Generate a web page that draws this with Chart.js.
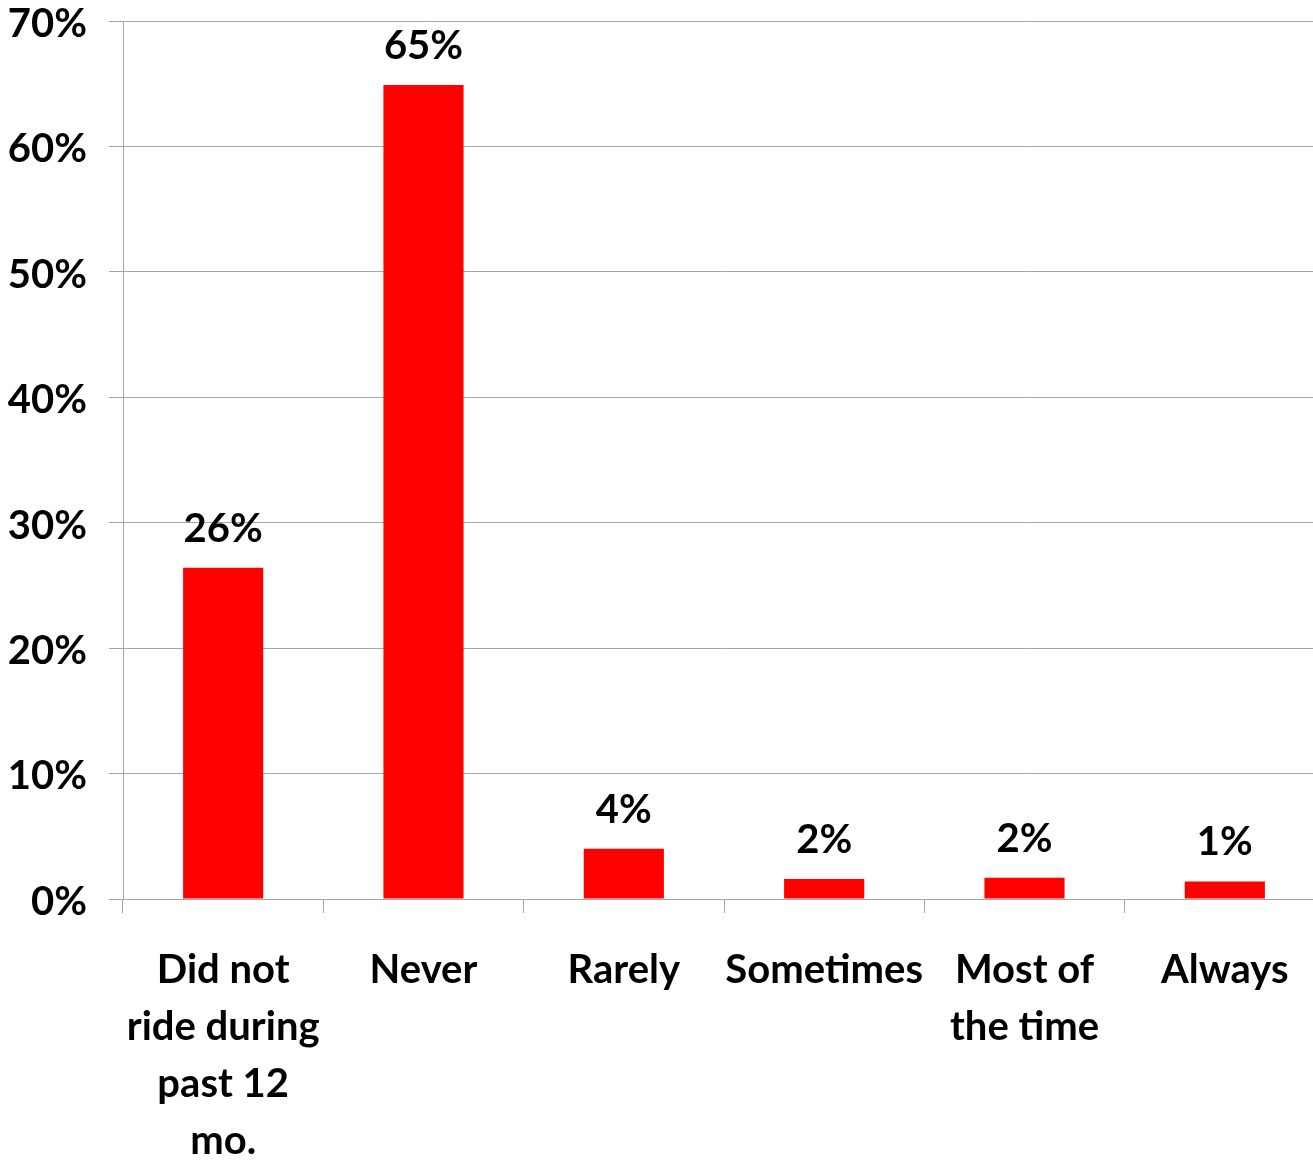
<!DOCTYPE html>
<html>
<head>
<meta charset="utf-8">
<script src="https://cdn.jsdelivr.net/npm/chart.js@4.4.1/dist/chart.umd.min.js"></script>
<style>
  html, body { margin: 0; padding: 0; background: #fff; overflow: hidden; }
  #wrap { width: 1325px; height: 1180px; }
</style>
</head>
<body>
<div id="wrap"><canvas id="chart"></canvas></div>
<script>
  // category labels (multi-line ones as arrays)
  var categories = [
    ['Did not', 'ride during', 'past 12', 'mo.'],
    'Never',
    'Rarely',
    'Sometimes',
    ['Most of', 'the time'],
    'Always'
  ];
  // percentages
  var values = [26.4, 64.9, 4.0, 1.6, 1.7, 1.4];
  var yTicks = [0, 10, 20, 30, 40, 50, 60, 70];

  var X_FONT = { family: 'Lato', weight: 'bold', size: 40, lineHeight: 1.425 };
  var Y_FONT = { family: 'Lato', weight: 'bold', size: 40, lineHeight: 1 };
  var GRID = '#a6a6a6';

  // draws "26%" etc. above each bar
  var barLabels = {
    id: 'barLabels',
    afterDatasetsDraw: function (chart) {
      var ctx = chart.ctx;
      var meta = chart.getDatasetMeta(0);
      ctx.save();
      ctx.font = 'bold 40px Lato';
      ctx.fillStyle = '#000';
      ctx.textAlign = 'center';
      ctx.textBaseline = 'alphabetic';
      meta.data.forEach(function (bar, i) {
        ctx.fillText(Math.round(values[i]) + '%', bar.x, bar.y - 26);
      });
      ctx.restore();
    }
  };

  new Chart(document.getElementById('chart'), {
    type: 'bar',
    data: {
      labels: categories,
      datasets: [{
        data: values,
        backgroundColor: '#ff0000',
        borderWidth: 0,
        barPercentage: 0.4,
        categoryPercentage: 1
      }]
    },
    plugins: [barLabels],
    options: {
      responsive: true,
      maintainAspectRatio: false,
      animation: false,
      layout: { padding: { top: 21, right: 0, bottom: 0, left: 0 } },
      plugins: {
        legend: { display: false },
        tooltip: { enabled: false }
      },
      scales: {
        x: {
          grid: { offset: true, drawOnChartArea: false, color: GRID, tickLength: 14 },
          border: { color: GRID },
          ticks: {
            color: '#000', font: X_FONT, padding: 29,
            maxRotation: 0, autoSkip: false
          },
          afterFit: function (s) { s.height = 281; }
        },
        y: {
          min: 0,
          max: 70,
          afterBuildTicks: function (s) {
            s.ticks = yTicks.map(function (v) { return { value: v }; });
          },
          grid: { color: GRID, tickLength: 14 },
          border: { color: GRID },
          ticks: {
            color: '#000', font: Y_FONT, padding: 22, labelOffset: 3,
            callback: function (v) { return v + '%'; }
          },
          afterFit: function (s) {
            s.width = 123;
            s.paddingTop = 0;
            s.paddingBottom = 0;
          }
        }
      }
    }
  });
</script>
</body>
</html>
